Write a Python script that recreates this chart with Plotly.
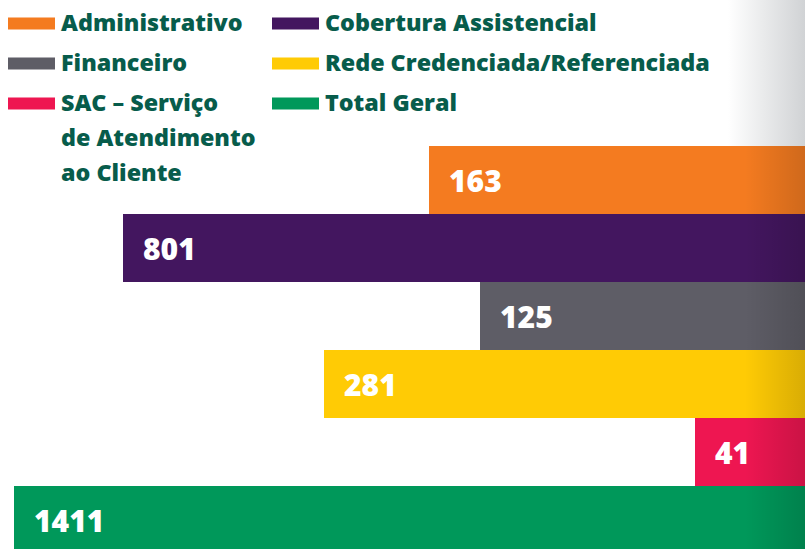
import numpy as np
import plotly.graph_objects as go

# dados (de cima para baixo)
categorias = [
    "Administrativo",
    "Cobertura Assistencial",
    "Financeiro",
    "Rede Credenciada/Referenciada",
    "SAC – Serviço<br>de Atendimento<br>ao Cliente",
    "Total Geral",
]
valores = [163, 801, 125, 281, 41, 1411]
cores = ["#f47b20", "#43165f", "#5e5d66", "#ffcb05", "#ee1651", "#00985a"]

verde_texto = "#075c4b"
fonte = "Open Sans"
W, H = 805, 549

fig = go.Figure()

# barras saindo da borda direita (eixo log invertido)
fig.add_trace(go.Bar(
    x=valores,
    y=categorias,
    orientation="h",
    width=1.0,
    marker=dict(color=cores, line_width=0),
    hoverinfo="skip",
    showlegend=False,
))

# sombra de dobra de página (decoração) em eixo sobreposto com unidades de pixel
sombra_topo = go.Scatter(
    x=[728, 805, 805, 728, 728], y=[0, 0, 146, 146, 0],
    fill="toself", mode="none",
    fillgradient=dict(type="horizontal",
                      colorscale=[[0, "rgba(170,174,178,0)"], [1, "rgba(170,174,178,0.55)"]]),
    xaxis="x2", yaxis="y2", hoverinfo="skip", showlegend=False,
)
sombra_barras = go.Scatter(
    x=[745, 805, 805, 745, 745], y=[146, 146, 549, 549, 146],
    fill="toself", mode="none",
    fillgradient=dict(type="horizontal",
                      colorscale=[[0, "rgba(0,0,0,0)"], [1, "rgba(0,0,0,0.15)"]]),
    xaxis="x2", yaxis="y2", hoverinfo="skip", showlegend=False,
)
fig.add_trace(sombra_topo)
fig.add_trace(sombra_barras)

# rótulos de valor no início de cada barra
for cat, v in zip(categorias, valores):
    fig.add_annotation(
        x=np.log10(v), y=cat, xref="x", yref="y",
        text=str(v), showarrow=False,
        xanchor="left", yanchor="middle", xshift=18, yshift=0,
        font=dict(family=fonte, size=30, color="white", weight=800),
    )

# legenda manual em duas colunas
col_swatch = [(8, 55), (272, 319)]
col_texto = [59, 323]
for i, (cat, cor) in enumerate(zip(categorias, cores)):
    linha, col = divmod(i, 2)
    yc = 23.5 + 40 * linha
    x0, x1 = col_swatch[col]
    fig.add_shape(type="rect", xref="x2", yref="y2",
                  x0=x0, x1=x1, y0=yc - 6, y1=yc + 6,
                  fillcolor=cor, line_width=0)
    for j, parte in enumerate(cat.split("<br>")):
        fig.add_annotation(
            x=col_texto[col], y=yc + 35 * j, xref="x2", yref="y2",
            text=parte, showarrow=False,
            xanchor="left", yanchor="middle", yshift=2,
            font=dict(family=fonte, size=23.3, color=verde_texto, weight=800),
        )

fig.update_layout(
    width=W, height=H,
    margin=dict(l=0, r=0, t=0, b=0),
    paper_bgcolor="white",
    plot_bgcolor="white",
    bargap=0,
    xaxis=dict(type="log", range=[3.1802, 1.3643], visible=False, fixedrange=True),
    yaxis=dict(type="category", range=[5.426, -2.647], visible=False, fixedrange=True),
    xaxis2=dict(overlaying="x", anchor="y2", range=[0, W], visible=False, fixedrange=True),
    yaxis2=dict(overlaying="y", anchor="x2", range=[H, 0], visible=False, fixedrange=True),
)

# remove a margem padrão do body para a figura ocupar a janela toda
fig.write_html("out.html", config={"displayModeBar": False},
               post_script="document.body.style.margin='0';")
